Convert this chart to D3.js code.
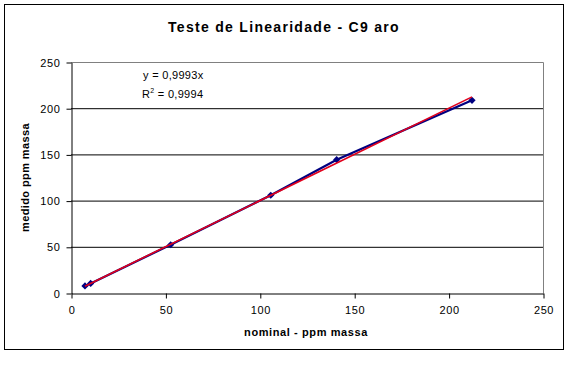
<!DOCTYPE html>
<html><head><meta charset="utf-8">
<script src="https://cdn.jsdelivr.net/npm/d3@7"></script>
<style>body{margin:0;background:#fff}svg{display:block}text{font-family:"Liberation Sans",Arial,sans-serif}</style>
</head><body><svg id="c" width="576" height="366"></svg>
<script>
const nominal = [7.4, 10.4, 52.8, 105.8, 140.7, 212.4];
const medido  = [7.6, 10.4, 52.2, 105.8, 144.3, 208.5];
const slope = 0.9993;
const xTicks = [0, 50, 100, 150, 200, 250];
const yTicks = [0, 50, 100, 150, 200, 250];
const title = "Teste de Linearidade - C9 aro";
const xTitle = "nominal - ppm massa";
const yTitle = "medido ppm massa";
const eqLine = "y = 0,9993x";
const r2Value = "0,9994";

const svg = d3.select("#c");
const L = 71, R = 543, T = 62, B = 293;
const x = d3.scaleLinear().domain([0, 250]).range([L, R]);
const y = d3.scaleLinear().domain([0, 250]).range([B, T]);

svg.append("rect").attr("x", 4.5).attr("y", 4.5).attr("width", 559).attr("height", 345)
  .attr("fill", "#fff").attr("stroke", "#000");

svg.append("text").attr("x", 284).attr("y", 32).attr("text-anchor", "middle")
  .attr("font-size", 14).attr("font-weight", "bold").attr("letter-spacing", 1.3).text(title);

// gridlines
svg.append("g").selectAll("line").data(yTicks.filter(d => d > 0 && d < 250)).join("line")
  .attr("x1", L).attr("x2", R).attr("y1", d => y(d) + 0.5).attr("y2", d => y(d) + 0.5)
  .attr("stroke", "#000");
// plot border top/right grey
svg.append("path").attr("d", `M${L},${T + 0.5}H${R + 0.5}V${B}`).attr("fill", "none").attr("stroke", "#808080");

// axes
const ya = svg.append("g").attr("transform", `translate(${L + 0.5},0.5)`)
  .call(d3.axisLeft(y).tickValues(yTicks).tickSize(5).tickSizeOuter(0).tickPadding(6));
const xa = svg.append("g").attr("transform", `translate(0.5,${B + 0.5})`)
  .call(d3.axisBottom(x).tickValues(xTicks).tickSize(5).tickSizeOuter(0).tickPadding(8));
[ya, xa].forEach(a => {
  a.selectAll("text").attr("font-size", 11).attr("fill", "#000").attr("letter-spacing", 0.6)
    .attr("font-family", '"Liberation Sans",Arial,sans-serif');
  a.selectAll("line,path").attr("stroke", "#000");
});

// series
const pts = nominal.map((v, i) => [v, medido[i]]);
svg.append("path").datum(pts).attr("fill", "none").attr("stroke", "#000080").attr("stroke-width", 2.2)
  .attr("d", d3.line().x(d => x(d[0])).y(d => y(d[1])));
svg.append("g").selectAll("path").data(pts).join("path")
  .attr("transform", d => `translate(${x(d[0])},${y(d[1])}) rotate(45)`)
  .attr("d", d3.symbol(d3.symbolSquare, 26)).attr("fill", "#000080");

// trendline
const xMin = d3.min(nominal), xMax = d3.max(nominal);
svg.append("line").attr("x1", x(xMin)).attr("y1", y(slope * xMin)).attr("x2", x(xMax)).attr("y2", y(slope * xMax))
  .attr("stroke", "#e0001c").attr("stroke-width", 1.6);

// equation
svg.append("text").attr("x", 143).attr("y", 79).attr("font-size", 11).attr("letter-spacing", 0.3).text(eqLine);
const r2 = svg.append("text").attr("x", 142).attr("y", 98).attr("font-size", 11).attr("letter-spacing", 0.3);
r2.append("tspan").text("R");
r2.append("tspan").attr("font-size", 7).attr("dy", -5).text("2");
r2.append("tspan").attr("dy", 5).text(" = " + r2Value);

// axis titles
svg.append("text").attr("x", 306).attr("y", 336).attr("text-anchor", "middle")
  .attr("font-size", 11).attr("font-weight", "bold").attr("letter-spacing", 0.6).text(xTitle);
svg.append("text").attr("transform", `translate(29,${(T + B) / 2}) rotate(-90)`).attr("text-anchor", "middle")
  .attr("font-size", 11).attr("font-weight", "bold").attr("letter-spacing", 0.4).text(yTitle);
</script></body></html>
